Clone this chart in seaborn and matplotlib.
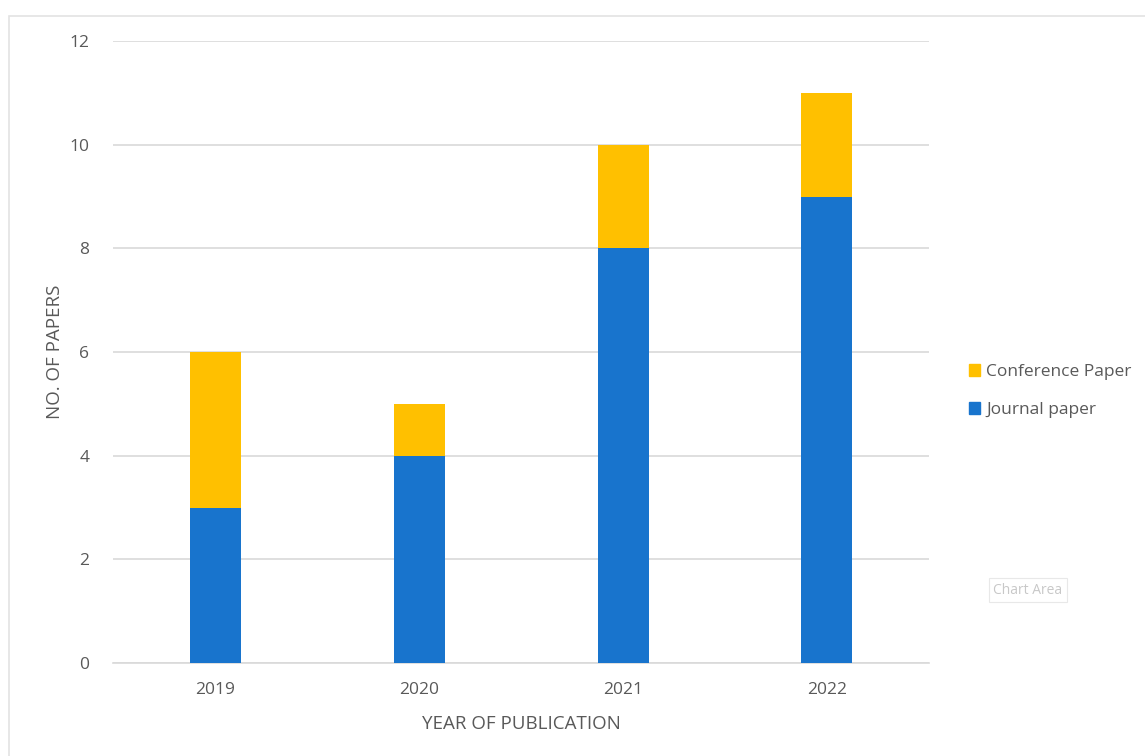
import numpy as np
import pandas as pd
import matplotlib.pyplot as plt
import seaborn as sns
from matplotlib.patches import Rectangle, Patch

years = ["2019", "2020", "2021", "2022"]
journal = [3, 4, 8, 9]
conference = [3, 1, 2, 2]
y_ticks = [0, 2, 4, 6, 8, 10, 12]

BLUE = "#1874CD"
YELLOW = "#FFC000"
TEXT = "#595959"
GRID = "#D9D9D9"

sns.set_theme(style="white")
plt.rcParams["font.family"] = ["Open Sans", "DejaVu Sans"]

df = pd.DataFrame({"Year": years, "Journal": journal, "Conference": conference})
df["Total"] = df["Journal"] + df["Conference"]

fig = plt.figure(figsize=(11.45, 7.56), dpi=100)
ax = fig.add_axes([113 / 1145, 1 - 663 / 756, 816 / 1145, 622 / 756])

# chart area border
fig.patches.append(Rectangle((9 / 1145, -0.1), 1.2, 1 - 16 / 756 + 0.1, transform=fig.transFigure,
                             fill=False, edgecolor="#E3E3E3", linewidth=1.2))

sns.barplot(data=df, x="Year", y="Total", color=YELLOW, saturation=1, width=0.25, ax=ax,
            zorder=3, linewidth=0)
sns.barplot(data=df, x="Year", y="Journal", color=BLUE, saturation=1, width=0.25, ax=ax,
            zorder=4, linewidth=0)

ax.set_ylim(0, 12)
ax.set_xlim(-0.5, 3.5)
ax.set_yticks(y_ticks)
ax.set_yticklabels([str(t) for t in y_ticks])
ax.yaxis.grid(True, color=GRID, linewidth=1.2, zorder=0)
ax.set_axisbelow(True)
for s in ["top", "right", "left"]:
    ax.spines[s].set_visible(False)
ax.spines["bottom"].set_color(GRID)
ax.spines["bottom"].set_linewidth(1.2)
ax.tick_params(axis="both", length=0, colors=TEXT, labelsize=12.5)
ax.tick_params(axis="y", pad=17)
ax.tick_params(axis="x", pad=14)

ax.set_xlabel("YEAR OF PUBLICATION", fontsize=13.5, color=TEXT, labelpad=12)
ax.set_ylabel("NO. OF PAPERS", fontsize=13.5, color=TEXT, labelpad=4)

handles = [Patch(color=YELLOW, label="Conference Paper"), Patch(color=BLUE, label="Journal paper")]
fig.legend(handles=handles, loc="center left", bbox_to_anchor=(953 / 1145, 1 - 391 / 756),
           frameon=False, fontsize=12.5, labelcolor=TEXT, handlelength=0.65, handleheight=0.65,
           handletextpad=0.35, labelspacing=1.25)

fig.text(1028 / 1145, 1 - 590 / 756, "Chart Area", fontsize=10, color="#C8C8C8", ha="center", va="center",
         bbox=dict(boxstyle="square,pad=0.35", facecolor="white", edgecolor="#E8E8E8", linewidth=0.8))

fig.savefig("out.png", dpi=100)
